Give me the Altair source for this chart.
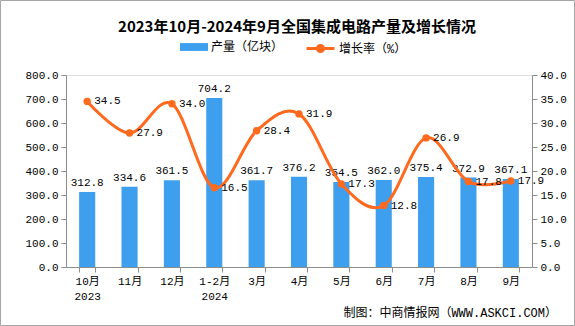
import altair as alt
import pandas as pd

title_text = "2023年10月-2024年9月全国集成电路产量及增长情况"
footer_text = "制图：中商情报网（WWW.ASKCI.COM）"
categories = ["10月|2023", "11月", "12月", "1-2月|2024", "3月", "4月", "5月", "6月", "7月", "8月", "9月"]
output = [312.8, 334.6, 361.5, 704.2, 361.7, 376.2, 354.5, 362.0, 375.4, 372.9, 367.1]
growth = [34.5, 27.9, 34.0, 16.5, 28.4, 31.9, 17.3, 12.8, 26.9, 17.8, 17.9]
series_bar = "产量（亿块）"
series_line = "增长率（%）"
left_ticks = [0, 100, 200, 300, 400, 500, 600, 700, 800]
right_ticks = [0, 5, 10, 15, 20, 25, 30, 35, 40]

df = pd.DataFrame({"cat": categories, "output": output, "growth": growth})
df["s1"] = series_bar
df["s2"] = series_line

FONT = "Liberation Mono, Noto Sans CJK SC"
BLUE = "#3F9FEF"
ORANGE = "#FF6A1F"
AXIS_GREY = "#8C8C8C"

xenc = alt.X(
    "cat:N", sort=categories,
    scale=alt.Scale(paddingInner=0.62, paddingOuter=0.31),
    axis=alt.Axis(title=None, labelAngle=0, labelExpr="split(datum.label, '|')",
                  tickBand="extent", domainColor=AXIS_GREY, tickColor=AXIS_GREY,
                  labelFont=FONT, labelFontSize=11, labelColor="#000000",
                  labelPadding=3, tickSize=5, labelLineHeight=15),
)
xplain = alt.X("cat:N", sort=categories)

y_left = alt.Scale(domain=[0, 800], nice=False, zero=True)
y_right = alt.Scale(domain=[0, 40], nice=False, zero=True)

base = alt.Chart(df)

bars = base.mark_bar().encode(
    x=xenc,
    y=alt.Y("output:Q", scale=y_left,
            axis=alt.Axis(title=None, orient="left", values=left_ticks, format=".1f", grid=False,
                          domainColor=AXIS_GREY, tickColor=AXIS_GREY, tickSize=5,
                          labelFont=FONT, labelFontSize=11, labelColor="#000000", labelPadding=3)),
    color=alt.Color("s1:N", scale=alt.Scale(domain=[series_bar], range=[BLUE]),
                    legend=alt.Legend(orient="none", legendX=114, legendY=-42, title=None,
                                      symbolType="M-1,-0.28H1V0.28H-1Z", symbolSize=784,
                                      symbolStrokeWidth=0, labelFont=FONT, labelFontSize=12,
                                      labelColor="#000000", padding=0, labelOffset=3)),
)

bar_text = base.mark_text(baseline="bottom", dy=-4, font=FONT, fontSize=11, color="#000000").encode(
    x=xplain,
    y=alt.Y("output:Q", scale=y_left, axis=None),
    text=alt.Text("output:Q", format=".1f"),
)

line = base.mark_line(interpolate="cardinal", strokeWidth=3).encode(
    x=xplain,
    y=alt.Y("growth:Q", scale=y_right,
            axis=alt.Axis(title=None, orient="right", values=right_ticks, format=".1f", grid=False,
                          domainColor=AXIS_GREY, tickColor=AXIS_GREY, tickSize=5,
                          labelFont=FONT, labelFontSize=11, labelColor="#000000", labelPadding=3)),
    stroke=alt.Stroke("s2:N", scale=alt.Scale(domain=[series_line], range=[ORANGE]),
                      legend=alt.Legend(orient="none", legendX=239, legendY=-42, title=None,
                                        symbolType="M-1,0H1M-0.22,0A0.22,0.22 0 1,0 0.22,0A0.22,0.22 0 1,0 -0.22,0Z",
                                        symbolSize=784, symbolStrokeWidth=3, symbolFillColor=ORANGE,
                                        labelFont=FONT, labelFontSize=12, labelColor="#000000",
                                        padding=0, labelOffset=3)),
)

points = base.mark_circle(size=55, color=ORANGE, opacity=1).encode(
    x=xplain,
    y=alt.Y("growth:Q", scale=y_right, axis=None),
)

line_text = base.mark_text(align="left", baseline="middle", dx=7, font=FONT, fontSize=11, color="#000000").encode(
    x=xplain,
    y=alt.Y("growth:Q", scale=y_right, axis=None),
    text=alt.Text("growth:Q", format=".1f"),
)

footer = alt.Chart(pd.DataFrame({"t": [footer_text]})).mark_text(
    align="right", baseline="middle", font=FONT, fontSize=12, color="#000000"
).encode(text="t:N", x=alt.value(491), y=alt.value(238))

border = alt.Chart(pd.DataFrame({"t": [0]})).mark_rect(
    fill=None, stroke="#A6A6A6", strokeWidth=1, clip=False
).encode(x=alt.value(-65.5), x2=alt.value(508.5), y=alt.value(-74.5), y2=alt.value(250.5))

chart = alt.layer(bars, bar_text, line, points, line_text, footer, border).resolve_scale(
    y="independent", color="independent"
).properties(
    width=466, height=192,
    autosize=alt.AutoSizeParams(type="none"),
    padding={"left": 66, "top": 75, "right": 43, "bottom": 59},
    title=alt.TitleParams(title_text, font="Noto Sans CJK SC", fontSize=15, fontWeight="bold",
                          color="#000000", anchor="middle", dx=-2, offset=-35),
).configure_view(stroke=None).configure(background="#FFFFFF")

chart.save("out.html", embed_options={"renderer": "svg", "actions": False})
